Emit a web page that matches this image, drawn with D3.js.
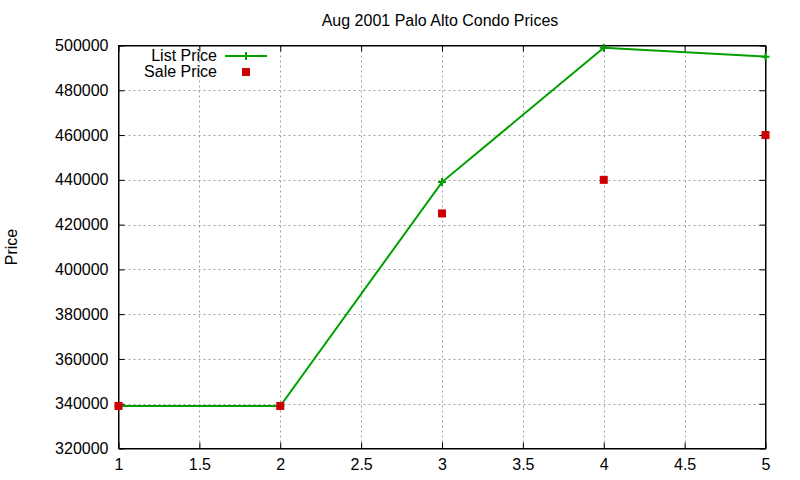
<!DOCTYPE html>
<html>
<head>
<meta charset="utf-8">
<script src="https://cdn.jsdelivr.net/npm/d3@7"></script>
<style>
  body { margin: 0; background: #fff; }
  text { font-family: "Liberation Sans", Arial, sans-serif; font-size: 16px; fill: #000; }
</style>
</head>
<body>
<svg id="chart" width="800" height="480"></svg>
<script>
// data
var houses = [1, 2, 3, 4, 5];
var listPrice = [339000, 339000, 439000, 499000, 495000];
var salePrice = [339000, 339000, 425000, 440000, 460000];
var xTicks = [1, 1.5, 2, 2.5, 3, 3.5, 4, 4.5, 5];
var yTicks = [320000, 340000, 360000, 380000, 400000, 420000, 440000, 460000, 480000, 500000];

var plotLeft = 118.5, plotRight = 765.5, plotTop = 45.5, plotBottom = 448.5;

var svg = d3.select("#chart");

var xScale = d3.scaleLinear().domain([1, 5]).range([plotLeft, plotRight]);
var yScale = d3.scaleLinear().domain([320000, 500000]).range([plotBottom, plotTop]);

// grid
var grid = svg.append("g").attr("stroke", "#a0a0a0").attr("stroke-dasharray", "2,3").attr("stroke-width", 1);
grid.selectAll(".gx").data(xTicks.slice(1, -1)).enter().append("line")
  .attr("x1", function(d) { return Math.round(xScale(d)) + 0.5; })
  .attr("x2", function(d) { return Math.round(xScale(d)) + 0.5; })
  .attr("y1", plotTop).attr("y2", plotBottom);
grid.selectAll(".gy").data(yTicks.slice(1, -1)).enter().append("line")
  .attr("y1", function(d) { return Math.round(yScale(d)) + 0.5; })
  .attr("y2", function(d) { return Math.round(yScale(d)) + 0.5; })
  .attr("x1", plotLeft).attr("x2", plotRight);

// axes with inward ticks on all four sides
var tick = 6;
var axes = svg.append("g");
axes.append("g").attr("transform", "translate(0," + plotBottom + ")")
  .call(d3.axisBottom(xScale).tickValues(xTicks).tickSizeInner(-tick).tickSizeOuter(0).tickPadding(10).tickFormat(d3.format("")));
axes.append("g").attr("transform", "translate(0," + plotTop + ")")
  .call(d3.axisTop(xScale).tickValues(xTicks).tickSizeInner(-tick).tickSizeOuter(0).tickFormat(""));
axes.append("g").attr("transform", "translate(" + plotLeft + ",0)")
  .call(d3.axisLeft(yScale).tickValues(yTicks).tickSizeInner(-tick).tickSizeOuter(0).tickPadding(10).tickFormat(d3.format("d")));
axes.append("g").attr("transform", "translate(" + plotRight + ",0)")
  .call(d3.axisRight(yScale).tickValues(yTicks).tickSizeInner(-tick).tickSizeOuter(0).tickFormat(""));
axes.selectAll("path.domain").attr("stroke", "#000");
axes.selectAll(".tick line").attr("stroke", "#000");
axes.selectAll("g").attr("font-size", null).attr("font-family", null);

// border
svg.append("rect").attr("x", plotLeft).attr("y", plotTop).attr("width", plotRight - plotLeft).attr("height", plotBottom - plotTop)
  .attr("fill", "none").attr("stroke", "#000").attr("stroke-width", 1);

var green = "#00a000", red = "#cc0000";

// list price line
var line = d3.line().x(function(d, i) { return xScale(houses[i]); }).y(function(d) { return yScale(d); });
svg.append("path").datum(listPrice).attr("d", line)
  .attr("fill", "none").attr("stroke", green).attr("stroke-width", 2);

function plus(g, x, y) {
  g.append("path").attr("d", "M" + (x - 4) + "," + y + "H" + (x + 4) + "M" + x + "," + (y - 4) + "V" + (y + 4))
    .attr("stroke", green).attr("stroke-width", 2);
}
var pts = svg.append("g");
listPrice.forEach(function(d, i) { plus(pts, xScale(houses[i]), yScale(d)); });

// sale price squares
svg.append("g").selectAll("rect").data(salePrice).enter().append("rect")
  .attr("x", function(d, i) { return xScale(houses[i]) - 4; })
  .attr("y", function(d) { return yScale(d) - 4; })
  .attr("width", 8).attr("height", 8).attr("fill", red);

// legend
var legend = svg.append("g");
legend.append("text").attr("x", 217).attr("y", 55).attr("dy", "0.35em").attr("text-anchor", "end").text("List Price");
legend.append("line").attr("x1", 225).attr("x2", 267).attr("y1", 56).attr("y2", 56).attr("stroke", green).attr("stroke-width", 2);
plus(legend, 246, 56);
legend.append("text").attr("x", 217).attr("y", 71).attr("dy", "0.35em").attr("text-anchor", "end").text("Sale Price");
legend.append("rect").attr("x", 242).attr("y", 68).attr("width", 8).attr("height", 8).attr("fill", red);

// title and axis label
svg.append("text").attr("x", 440).attr("y", 20).attr("dy", "0.35em").attr("text-anchor", "middle")
  .text("Aug 2001 Palo Alto Condo Prices");
svg.append("text").attr("transform", "translate(17,247) rotate(-90)").attr("text-anchor", "middle")
  .text("Price");
</script>
</body>
</html>
